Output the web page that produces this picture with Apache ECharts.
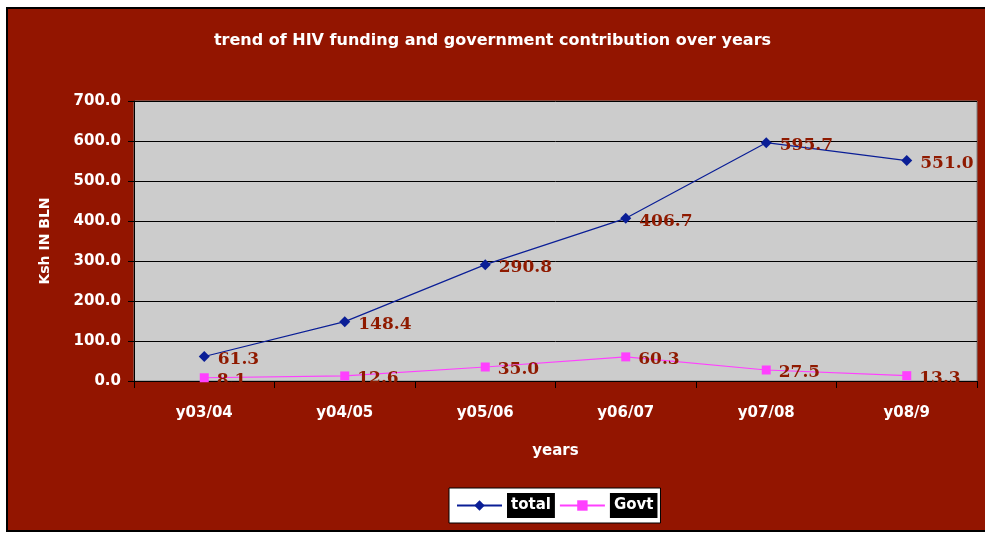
<!DOCTYPE html>
<html>
<head>
<meta charset="utf-8">
<title>HIV funding trend</title>
<script src="https://cdn.jsdelivr.net/npm/echarts@6/dist/echarts.min.js"></script>
<style>
  html, body { margin: 0; padding: 0; background: #ffffff; }
  #chart { width: 985px; height: 534px; }
</style>
</head>
<body>
<div id="chart"></div>
<script>
// Fiscal years on the category axis
const years = ['y03/04', 'y04/05', 'y05/06', 'y06/07', 'y07/08', 'y08/9'];
// Total HIV funding, Ksh billions
const totalFunding = [61.3, 148.4, 290.8, 406.7, 595.7, 551.0];
// Government contribution, Ksh billions
const govtContribution = [8.1, 12.6, 35.0, 60.3, 27.5, 13.3];

const RED = '#931500';
const LABEL_RED = '#8f1a00';
const labelFont = '"DejaVu Serif", serif';
const uiFont = '"DejaVu Sans", sans-serif';

const chart = echarts.init(document.getElementById('chart'));

const valueLabel = {
  show: true,
  position: 'right',
  distance: 8,
  offset: [0, 3],
  color: LABEL_RED,
  fontFamily: labelFont,
  fontWeight: 'bold',
  fontSize: 17,
  formatter: p => p.value.toFixed(1)
};

chart.setOption({
  backgroundColor: '#ffffff',
  animation: false,
  graphic: [{
    type: 'rect',
    z: -10,
    silent: true,
    shape: { x: 7, y: 8, width: 990, height: 523 },
    style: { fill: RED, stroke: '#000000', lineWidth: 2 }
  }],
  title: {
    text: 'trend of HIV funding and government contribution over years',
    left: 'center',
    top: 28,
    textStyle: {
      color: '#ffffff',
      fontFamily: uiFont,
      fontSize: 16,
      fontWeight: 'bold'
    }
  },
  legend: {
    left: 449,
    top: 488,
    itemWidth: 45,
    itemHeight: 13,
    itemGap: 4,
    padding: [5, 3, 5, 7],
    backgroundColor: '#ffffff',
    borderColor: '#000000',
    borderWidth: 1,
    textStyle: {
      color: '#ffffff',
      backgroundColor: '#000000',
      fontFamily: uiFont,
      fontWeight: 'bold',
      fontSize: 15,
      padding: [5, 4, 5, 4]
    },
    data: ['total', 'Govt']
  },
  grid: {
    left: 134,
    right: 8,
    top: 101,
    bottom: 153,
    show: true,
    backgroundColor: '#cccccc',
    borderColor: '#808080',
    borderWidth: 1
  },
  xAxis: {
    type: 'category',
    data: years,
    boundaryGap: true,
    name: 'years',
    nameLocation: 'middle',
    nameGap: 63,
    nameTextStyle: {
      color: '#ffffff',
      fontFamily: uiFont,
      fontWeight: 'bold',
      fontSize: 15
    },
    axisLine: { lineStyle: { color: '#000000', width: 1 } },
    axisTick: { show: true, length: 7, lineStyle: { color: '#000000' } },
    axisLabel: {
      color: '#ffffff',
      fontFamily: uiFont,
      fontWeight: 'bold',
      fontSize: 15,
      margin: 25
    }
  },
  yAxis: {
    type: 'value',
    min: 0,
    max: 700,
    interval: 100,
    name: 'Ksh IN BLN',
    nameLocation: 'middle',
    nameGap: 82,
    nameRotate: 90,
    nameTextStyle: {
      color: '#ffffff',
      fontFamily: uiFont,
      fontWeight: 'bold',
      fontSize: 14
    },
    axisLine: { show: true, lineStyle: { color: '#000000', width: 1 } },
    axisTick: { show: true, length: 6, lineStyle: { color: '#000000' } },
    axisLabel: {
      color: '#ffffff',
      fontFamily: uiFont,
      fontWeight: 'bold',
      fontSize: 15,
      margin: 13,
      formatter: v => v.toFixed(1)
    },
    splitLine: { lineStyle: { color: '#000000', width: 1 } }
  },
  series: [
    {
      name: 'total',
      type: 'line',
      data: totalFunding,
      symbol: 'diamond',
      symbolSize: 11,
      lineStyle: { color: '#0a1e96', width: 1.2 },
      itemStyle: { color: '#0a1e96' },
      label: valueLabel,
      z: 3
    },
    {
      name: 'Govt',
      type: 'line',
      data: govtContribution,
      symbol: 'rect',
      symbolSize: 9,
      lineStyle: { color: '#ff40ff', width: 1.2 },
      itemStyle: { color: '#ff40ff' },
      label: valueLabel,
      z: 2
    }
  ]
});
</script>
</body>
</html>
